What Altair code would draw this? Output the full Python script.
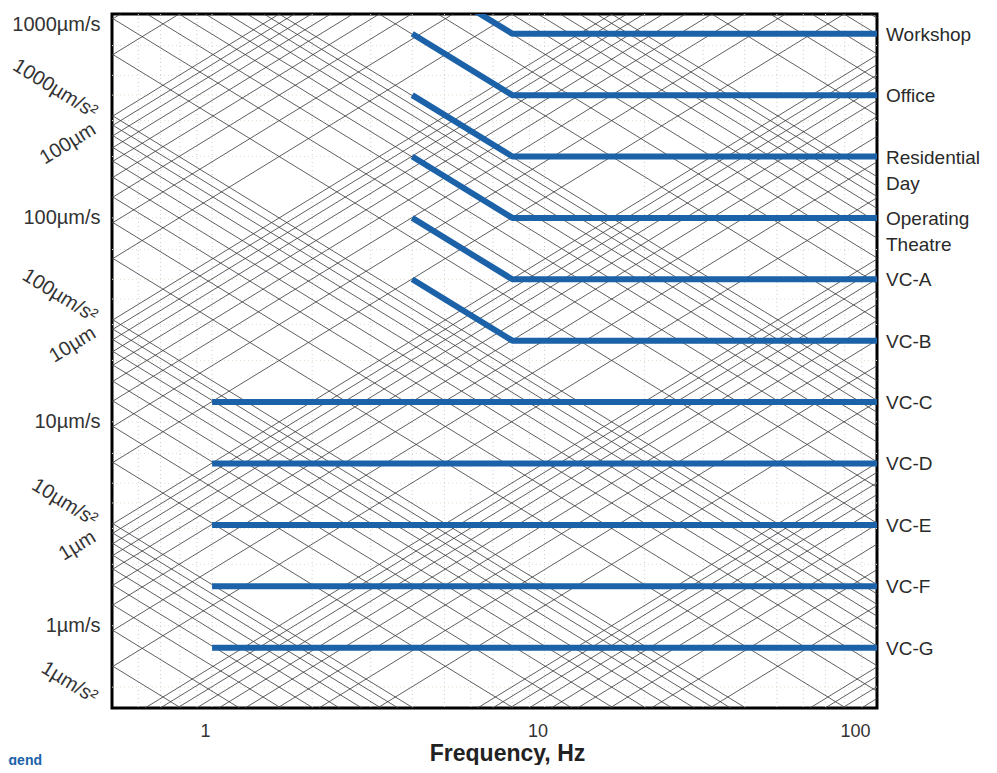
import math
import altair as alt
import pandas as pd

# ---------------- data ----------------
# vibration criteria curves (frequency in Hz, velocity in µm/s)
curve_names = ["Workshop", "Office", "Residential\nDay", "Operating\nTheatre",
               "VC-A", "VC-B", "VC-C", "VC-D", "VC-E", "VC-F", "VC-G"]
curve_freqs = [[4, 8, 100], [4, 8, 100], [4, 8, 100], [4, 8, 100],
               [4, 8, 100], [4, 8, 100],
               [1, 100], [1, 100], [1, 100], [1, 100], [1, 100]]
curve_vels = [[1600, 800, 800], [800, 400, 400], [400, 200, 200],
              [200, 100, 100], [100, 50, 50], [50, 25, 25],
              [12.5, 12.5], [6.25, 6.25], [3.12, 3.12], [1.56, 1.56],
              [0.78, 0.78]]
label_levels = [800, 400, 200, 100, 50, 25, 12.5, 6.25, 3.12, 1.56, 0.78]

x_domain = [0.5, 100]
y_domain = [0.395, 1000]
x_tick_values = [1, 10, 100]
y_tick_values = [1, 10, 100, 1000]

# tripartite background grid: constant acceleration (µm/s²) and displacement (µm)
grid_mantissas = [1, 2, 3, 4, 5, 6, 7, 8, 9]
accel_decades = [1, 10, 100, 1000, 1e4, 1e5, 1e6]
disp_decades = [1e-4, 1e-3, 1e-2, 0.1, 1, 10, 100, 1000]

# dotted reference grid
dot_freqs = [0.6, 0.7, 0.8, 0.9, 1, 2, 3, 4, 5, 6, 7, 8, 9, 10,
             20, 30, 40, 50, 60, 70, 80, 90]
dot_vels = [0.5, 1, 2, 3, 4, 5, 7, 10, 20, 30, 40, 50, 70, 100,
            200, 300, 400, 500, 700]

# diagonal scale labels on the left
diag_labels = ["1000µm/s²", "100µm", "100µm/s²", "10µm", "10µm/s²", "1µm", "1µm/s²"]
diag_label_v = [318, 314, 31.8, 31.4, 3.18, 3.14, 0.43]
diag_label_kind = ["a", "d", "a", "d", "a", "d", "a"]

# ---------------- tables ----------------
curve_rows = []
for name, fs, vs in zip(curve_names, curve_freqs, curve_vels):
    for i, (f, v) in enumerate(zip(fs, vs)):
        curve_rows.append({"name": name, "order": i, "f": f, "v": v})
curves_df = pd.DataFrame(curve_rows)

labels_df = pd.DataFrame({"name": curve_names, "v": label_levels})

mesh_rows = []
f_lo, f_hi = x_domain
for dec in accel_decades:
    for m in grid_mantissas:
        a = m * dec
        if dec == accel_decades[-1] and m > 1:
            continue
        mesh_rows.append({"f1": f_lo, "f2": f_hi,
                          "v1": a / (2 * math.pi * f_lo), "v2": a / (2 * math.pi * f_hi)})
for dec in disp_decades:
    for m in grid_mantissas:
        d = m * dec
        if dec == disp_decades[-1] and m > 1:
            continue
        mesh_rows.append({"f1": f_lo, "f2": f_hi,
                          "v1": 2 * math.pi * f_lo * d, "v2": 2 * math.pi * f_hi * d})
mesh_df = pd.DataFrame(mesh_rows)

vdot_df = pd.DataFrame({"f": dot_freqs})
hdot_df = pd.DataFrame({"v": dot_vels})

diag_df = pd.DataFrame({"text": diag_labels, "v": diag_label_v,
                        "kind": diag_label_kind, "f": [x_domain[0]] * len(diag_labels)})

# ---------------- chart ----------------
W, H = 765, 694
xscale = alt.Scale(type="log", domain=x_domain, nice=False, zero=False)
yscale = alt.Scale(type="log", domain=y_domain, nice=False, zero=False)
FONT = "Liberation Sans"
BLUE = "#1b62a9"

x_axis = alt.Axis(values=x_tick_values, format="d", ticks=False, tickSize=0,
                  domain=False, grid=False, labelFont=FONT, labelFontSize=18,
                  labelColor="#333333", labelPadding=14, labelOffset=-7,
                  title="Frequency, Hz", titleFont=FONT, titleFontSize=23,
                  titleFontWeight="bold", titleColor="#222222",
                  titleX=395, titleY=52, titleBaseline="alphabetic",
                  titleAlign="center")
y_axis = alt.Axis(values=y_tick_values, ticks=False, tickSize=0, domain=False,
                  grid=False, labelExpr="datum.value + 'µm/s'", labelFont=FONT,
                  labelFontSize=20, labelColor="#333333", labelPadding=12,
                  labelFlush=True, title=None)

vdots = alt.Chart(vdot_df).mark_rule(stroke="#cfcfcf", strokeWidth=1,
                                     strokeDash=[1, 3], clip=True).encode(
    x=alt.X("f:Q", scale=xscale, axis=x_axis))
hdots = alt.Chart(hdot_df).mark_rule(stroke="#eedcc8", strokeWidth=1,
                                     strokeDash=[1, 3], clip=True).encode(
    y=alt.Y("v:Q", scale=yscale, axis=y_axis))

mesh = alt.Chart(mesh_df).mark_rule(stroke="#3a3a3a", strokeWidth=0.9,
                                    opacity=0.9, clip=True).encode(
    x=alt.X("f1:Q", scale=xscale), x2="f2:Q",
    y=alt.Y("v1:Q", scale=yscale), y2="v2:Q")

curves = alt.Chart(curves_df).mark_line(stroke=BLUE, strokeWidth=6, clip=True,
                                       strokeCap="butt", strokeJoin="round").encode(
    x=alt.X("f:Q", scale=xscale), y=alt.Y("v:Q", scale=yscale),
    detail="name:N", order="order:Q")

right_labels = alt.Chart(labels_df).mark_text(
    align="left", baseline="top", dx=9, dy=-8, lineBreak="\n", lineHeight=26,
    font=FONT, fontSize=19, color="#2a2a2a").encode(
    x=alt.datum(100, scale=xscale), y=alt.Y("v:Q", scale=yscale), text="name:N")

angle = math.degrees(math.atan((H / math.log10(y_domain[1] / y_domain[0])) /
                               (W / math.log10(x_domain[1] / x_domain[0]))))

diag_a = alt.Chart(diag_df).transform_filter(alt.datum.kind == "a").mark_text(
    align="right", baseline="middle", angle=angle, dx=-15, dy=7,
    font=FONT, fontSize=20, color="#333333").encode(
    x=alt.X("f:Q", scale=xscale), y=alt.Y("v:Q", scale=yscale), text="text:N")
diag_d = alt.Chart(diag_df).transform_filter(alt.datum.kind == "d").mark_text(
    align="right", baseline="middle", angle=360 - angle, dx=-21, dy=0,
    font=FONT, fontSize=20, color="#333333").encode(
    x=alt.X("f:Q", scale=xscale), y=alt.Y("v:Q", scale=yscale), text="text:N")

legend_word = alt.Chart(pd.DataFrame({"t": ["Legend"]})).mark_text(
    align="right", baseline="middle", font=FONT, fontSize=14, fontWeight="bold",
    color=BLUE).encode(x=alt.value(-70), y=alt.value(747), text="t:N")

chart = alt.layer(vdots, hdots, mesh, curves, right_labels, diag_a, diag_d,
                  legend_word).properties(
    width=W, height=H,
    autosize=alt.AutoSizeParams(type="none"),
    padding={"left": 104, "top": 6, "right": 112, "bottom": 57},
).configure(
    background="white",
    view=alt.ViewConfig(stroke="black", strokeWidth=3),
)

chart.save("out.html", embed_options={"renderer": "svg", "actions": False})
